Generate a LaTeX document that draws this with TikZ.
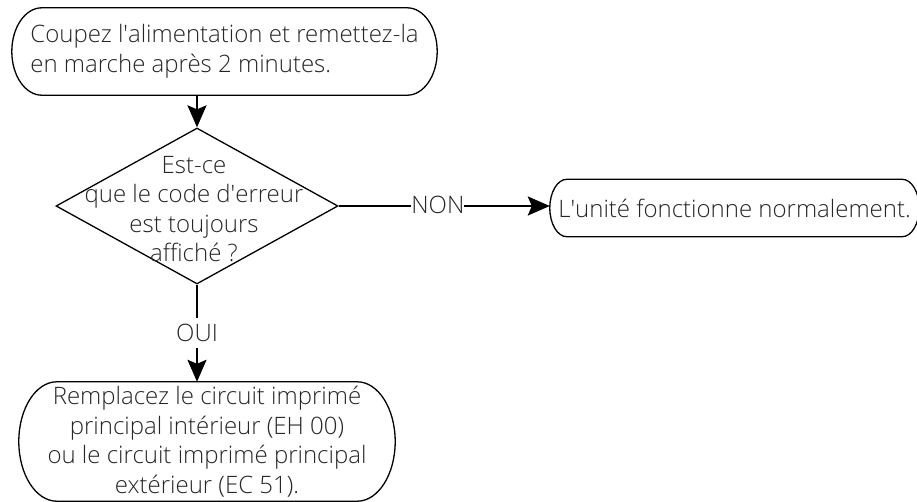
\documentclass[tikz,border=0pt]{standalone}
\usepackage{fontspec}
\setmainfont{Open Sans}[UprightFont=* Light]
\usetikzlibrary{arrows.meta, shapes.geometric, calc}

% rounded terminal outline: node name, cap radius
\newcommand{\termoutline}[2]{%
  \draw[outline] let \p1=(#1.north west), \p2=(#1.south east), \n1={(\y1-\y2)/2} in
    (\x1+#2,\y1) -- (\x2-#2,\y1)
    arc[start angle=90, end angle=-90, x radius=#2, y radius=\n1]
    -- (\x1+#2,\y2)
    arc[start angle=270, end angle=90, x radius=#2, y radius=\n1] -- cycle;}

\begin{document}
\begin{tikzpicture}[
      x=1pt, y=-1pt,
      font=\fontsize{24pt}{29.5pt}\selectfont,
      terminal/.style={
        inner sep=0pt,
        align=center,
        text=black!85
      },
      decision/.style={
        draw=black,
        diamond,
        inner sep=0pt,
        line width=1.3pt,
        minimum width=282pt,
        minimum height=156pt
      },
      outline/.style={draw=black, line width=1.3pt},
      flow/.style={-{Stealth[length=22pt, width=19pt, inset=4pt]}, draw=black, line width=2pt},
      tag/.style={fill=white, inner sep=0pt, text height=23pt, text depth=7pt, text=black!85}
    ]
    \useasboundingbox (0,0) rectangle (917,502);

    % Nodes
    \node[terminal, align=left, minimum width=425pt, minimum height=87pt] (start) at (224.5,51.5)
      {Coupez l\textquotesingle alimentation et remettez-la\\en marche après 2 minutes.};
    \node[decision, label={[align=center, text=black!85, xshift=-3pt, yshift=-3pt]center:Est-ce\\que le code d\textquotesingle erreur\\est toujours\\affiché ?}] (check) at (197,206) {};
    \node[terminal, minimum width=369pt, minimum height=57pt] (done) at (734.5,208)
      {L\textquotesingle unité fonctionne normalement.};
    \node[terminal, minimum width=376pt, minimum height=119pt] (fix) at (207,441.5)
      {Remplacez le circuit imprimé\\principal intérieur (EH 00)\\ou le circuit imprimé principal\\extérieur (EC 51).};

    \termoutline{start}{30pt}
    \termoutline{done}{17pt}
    \termoutline{fix}{38pt}

    % Connectors
    \draw[flow] (start.south -| check.north) -- (check.north);
    \draw[flow] (check.east) -- node[tag, pos=0.47] {NON} (check.east -| done.west);
    \draw[flow] (check.south) -- node[tag] {OUI} (check.south |- fix.north);

  \end{tikzpicture}
\end{document}
